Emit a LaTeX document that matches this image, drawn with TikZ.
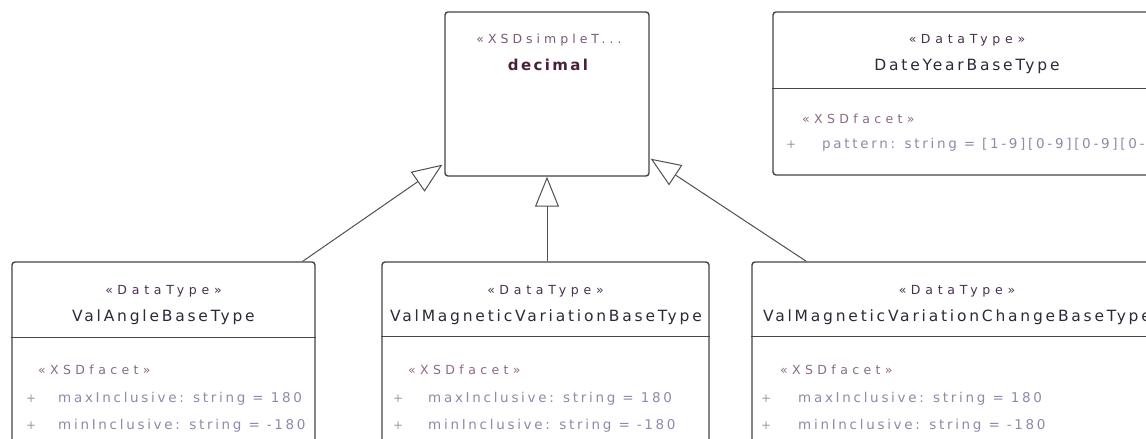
\documentclass[tikz,border=0pt]{standalone}
\usepackage{fontspec}
\setmainfont{DejaVu Sans}
\newfontfamily\namefont[LetterSpace=18]{DejaVu Sans}
\newfontfamily\decfont[LetterSpace=16]{DejaVu Sans}
\newfontfamily\decstfont[LetterSpace=32]{DejaVu Sans}
\newfontfamily\stfont[LetterSpace=38]{DejaVu Sans}
\newfontfamily\facetfont[LetterSpace=35]{DejaVu Sans}
\newfontfamily\attrfont[LetterSpace=20]{DejaVu Sans}
\usetikzlibrary{arrows.meta,calc}
\definecolor{bordercol}{HTML}{454545}
\definecolor{linecol}{HTML}{505050}
\definecolor{namecol}{HTML}{2A2A3A}
\definecolor{stcol}{HTML}{4A3050}
\definecolor{facetcol}{HTML}{8A6A88}
\definecolor{attrcol}{HTML}{8C8CAA}
\definecolor{pluscol}{HTML}{9A9A9A}
\definecolor{deccol}{HTML}{4A2038}
\definecolor{decstcol}{HTML}{7A5A7A}
\tikzset{
  box/.style={draw=bordercol, line width=1.4pt, rounded corners=3pt, fill=white, inner sep=0pt},
  divider/.style={draw=bordercol, line width=1.3pt},
  gen/.style={draw=linecol, line width=1pt, -{Triangle[open, length=30pt, width=24pt, fill=white]}},
  stereo/.style={inner sep=0pt, anchor=base, text=stcol, font=\stfont\fontsize{12.5}{14}\selectfont},
  cname/.style={inner sep=0pt, anchor=base, text=namecol, font=\namefont\fontsize{15.5}{18}\selectfont},
  facet/.style={inner sep=0pt, anchor=base west, text=facetcol, font=\facetfont\fontsize{12.5}{14}\selectfont},
  attr/.style={inner sep=0pt, anchor=base west, text=attrcol, font=\attrfont\fontsize{13.5}{15}\selectfont},
  plus/.style={inner sep=0pt, anchor=base west, text=pluscol, font=\attrfont\fontsize{12}{14}\selectfont},
}
\begin{document}
\begin{tikzpicture}[x=1pt, y=-1pt]
\useasboundingbox (0,0) rectangle (1146,439);
\clip (0,0) rectangle (1146,439);
\fill[white] (0,0) rectangle (1146,439);

% boxes
\node[box, minimum width=204pt, minimum height=164pt] (dec) at (547,94) {};
\node[box, minimum width=388pt, minimum height=163pt] (date) at (967,93.5) {};
\node[box, minimum width=303pt, minimum height=208pt] (ang) at (163.5,366) {};
\node[box, minimum width=327pt, minimum height=208pt] (mag) at (545.5,366) {};
\node[box, minimum width=410pt, minimum height=208pt] (chg) at (957,366) {};

% dividers
\draw[divider] ($(date.north west)+(0,77)$) -- ($(date.north east)+(0,77)$);
\draw[divider] ($(ang.north west)+(0,76)$) -- ($(ang.north east)+(0,76)$);
\draw[divider] ($(mag.north west)+(0,75)$) -- ($(mag.north east)+(0,75)$);
\draw[divider] ($(chg.north west)+(0,75)$) -- ($(chg.north east)+(0,75)$);

% decimal
\node[stereo, text=decstcol, font=\decstfont\fontsize{12.5}{14}\selectfont] (decst) at (549,43) {«XSDsimpleT...};
\node[cname, text=deccol, font=\decfont\bfseries\fontsize{15}{18}\selectfont] (decnm) at (548,70) {decimal};

% DateYearBaseType
\node[stereo] (datest) at (967,43) {«DataType»};
\node[cname] (datenm) at (967,70) {DateYearBaseType};
\node[facet] (datefc) at (802,123) {«XSDfacet»};
\node[plus] (datep1) at (786,148) {+};
\node[attr] (datea1) at (822,148) {pattern: string = [1-9][0-9][0-9][0-9]};

% ValAngleBaseType
\node[stereo] (angst) at (163.5,294) {«DataType»};
\node[cname] (angnm) at (163.5,321) {ValAngleBaseType};
\node[facet] (angfc) at (38,374) {«XSDfacet»};
\node[plus] (angp1) at (26,402) {+};
\node[attr] (anga1) at (58,402) {maxInclusive: string = 180};
\node[plus] (angp2) at (26,429) {+};
\node[attr] (anga2) at (58,429) {minInclusive: string = -180};

% ValMagneticVariationBaseType
\node[stereo] (magst) at (545.5,294) {«DataType»};
\node[cname] (magnm) at (546,321) {ValMagneticVariationBaseType};
\node[facet] (magfc) at (408,374) {«XSDfacet»};
\node[plus] (magp1) at (393,402) {+};
\node[attr] (maga1) at (428,402) {maxInclusive: string = 180};
\node[plus] (magp2) at (393,429) {+};
\node[attr] (maga2) at (428,429) {minInclusive: string = -180};

% ValMagneticVariationChangeBaseType
\node[stereo] (chgst) at (957,294) {«DataType»};
\node[cname] (chgnm) at (957,321) {ValMagneticVariationChangeBaseType};
\node[facet] (chgfc) at (780,374) {«XSDfacet»};
\node[plus] (chgp1) at (761,402) {+};
\node[attr] (chga1) at (798,402) {maxInclusive: string = 180};
\node[plus] (chgp2) at (761,429) {+};
\node[attr] (chga2) at (798,429) {minInclusive: string = -180};

% generalizations
\draw[gen] ($(ang.north east)+(-13,0)$) -- ($(dec.south west)+(-2,-12)$);
\draw[gen] (mag.north -| dec.south) -- (dec.south);
\draw[gen] ($(chg.north west)+(55,0)$) -- ($(dec.south east)+(1,-18)$);
\end{tikzpicture}
\end{document}
